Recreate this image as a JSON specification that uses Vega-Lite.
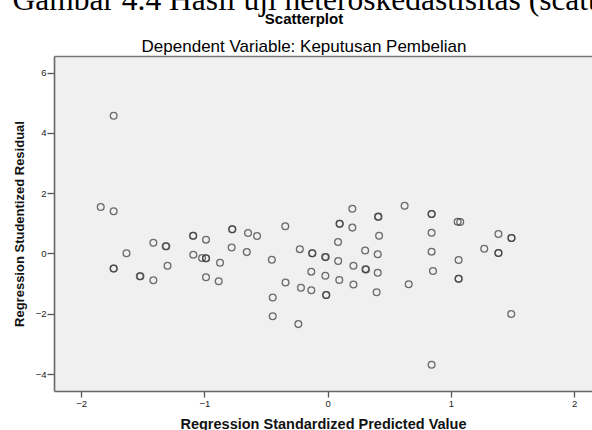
{
  "$schema": "https://vega.github.io/schema/vega-lite/v6.json",
  "autosize": {"type": "none"},
  "width": 538,
  "height": 335,
  "padding": {"left": 54, "top": 56, "right": 0, "bottom": 39},
  "background": "white",
  "config": {
    "view": {"fill": "#f0f0f0", "stroke": null},
    "font": "Liberation Sans"
  },
  "title": {
    "text": "Scatterplot",
    "subtitle": "Dependent Variable: Keputusan Pembelian",
    "font": "Liberation Sans",
    "fontSize": 15,
    "fontWeight": "bold",
    "color": "black",
    "subtitleFont": "Liberation Sans",
    "subtitleFontSize": 17,
    "subtitleColor": "black",
    "subtitlePadding": 12,
    "anchor": "middle",
    "frame": "group",
    "dx": -19,
    "offset": -71
  },
  "resolve": {"axis": {"x": "independent"}},
  "data": {
    "values": [
      {"x": -1.736, "y": 4.569},
      {"x": -1.841, "y": 1.542},
      {"x": -1.736, "y": 1.399},
      {"x": -1.632, "y": 0.007},
      {"x": -1.736, "y": -0.497},
      {"x": -1.736, "y": -0.497},
      {"x": -1.524, "y": -0.756},
      {"x": -1.519, "y": -0.756},
      {"x": -1.414, "y": 0.358},
      {"x": -1.314, "y": 0.239},
      {"x": -1.309, "y": 0.239},
      {"x": -1.414, "y": -0.889},
      {"x": -1.299, "y": -0.408},
      {"x": -1.091, "y": 0.587},
      {"x": -1.091, "y": 0.587},
      {"x": -0.987, "y": 0.458},
      {"x": -1.090, "y": -0.040},
      {"x": -1.019, "y": -0.149},
      {"x": -0.987, "y": -0.159},
      {"x": -0.987, "y": -0.159},
      {"x": -0.873, "y": -0.308},
      {"x": -0.987, "y": -0.789},
      {"x": -0.884, "y": -0.922},
      {"x": -0.774, "y": 0.802},
      {"x": -0.774, "y": 0.802},
      {"x": -0.646, "y": 0.680},
      {"x": -0.573, "y": 0.580},
      {"x": -0.779, "y": 0.199},
      {"x": -0.656, "y": 0.046},
      {"x": -0.453, "y": -0.206},
      {"x": -0.344, "y": 0.902},
      {"x": -0.446, "y": -1.459},
      {"x": -0.446, "y": -2.082},
      {"x": -0.342, "y": -0.962},
      {"x": -0.226, "y": 0.143},
      {"x": -0.217, "y": -1.134},
      {"x": -0.238, "y": -2.341},
      {"x": -0.133, "y": -0.603},
      {"x": -0.125, "y": 0.007},
      {"x": -0.125, "y": 0.007},
      {"x": -0.133, "y": -1.220},
      {"x": -0.021, "y": -0.116},
      {"x": -0.015, "y": -0.120},
      {"x": -0.019, "y": -0.739},
      {"x": -0.012, "y": -1.376},
      {"x": -0.012, "y": -1.376},
      {"x": 0.084, "y": 0.381},
      {"x": 0.097, "y": 0.988},
      {"x": 0.097, "y": 0.988},
      {"x": 0.085, "y": -0.249},
      {"x": 0.094, "y": -0.879},
      {"x": 0.200, "y": 1.482},
      {"x": 0.200, "y": 0.859},
      {"x": 0.209, "y": -0.408},
      {"x": 0.209, "y": -1.028},
      {"x": 0.304, "y": 0.099},
      {"x": 0.306, "y": -0.520},
      {"x": 0.311, "y": -0.528},
      {"x": 0.408, "y": 1.218},
      {"x": 0.412, "y": 1.222},
      {"x": 0.417, "y": 0.590},
      {"x": 0.406, "y": -0.023},
      {"x": 0.406, "y": -0.640},
      {"x": 0.397, "y": -1.286},
      {"x": 0.624, "y": 1.582},
      {"x": 0.657, "y": -1.021},
      {"x": 0.843, "y": 1.310},
      {"x": 0.843, "y": 1.310},
      {"x": 0.843, "y": 0.686},
      {"x": 0.843, "y": 0.060},
      {"x": 0.854, "y": -0.580},
      {"x": 0.843, "y": -3.687},
      {"x": 1.054, "y": 1.054},
      {"x": 1.075, "y": 1.044},
      {"x": 1.062, "y": -0.216},
      {"x": 1.062, "y": -0.839},
      {"x": 1.062, "y": -0.839},
      {"x": 1.270, "y": 0.159},
      {"x": 1.385, "y": 0.647},
      {"x": 1.491, "y": 0.514},
      {"x": 1.491, "y": 0.514},
      {"x": 1.385, "y": 0.017},
      {"x": 1.385, "y": 0.017},
      {"x": 1.489, "y": -2.006}
    ]
  },
  "layer": [
    {
      "mark": {"type": "point", "shape": "circle", "filled": false, "size": 46, "stroke": "#3a3a3a", "strokeWidth": 1.3, "opacity": 0.72},
      "encoding": {
        "x": {
          "field": "x", "type": "quantitative",
          "scale": {"domain": [-2.22, 2.144], "nice": false, "zero": false},
          "axis": {
            "orient": "bottom",
            "values": [-2, -1, 0, 1, 2],
            "title": "Regression Standardized Predicted Value",
            "titleFont": "Liberation Sans", "titleFontSize": 14.5, "titleFontWeight": "bold", "titleColor": "#111",
            "titlePadding": 10, "titleDx": 5,
            "labelFont": "Liberation Sans", "labelFontSize": 9.5, "labelColor": "#222", "labelPadding": 1,
            "tickSize": 6, "tickColor": "#555", "tickWidth": 1.3,
            "domainColor": "#666", "domainWidth": 1.6, "grid": false
          }
        },
        "y": {
          "field": "y", "type": "quantitative",
          "scale": {"domain": [-4.559, 6.548], "nice": false, "zero": false},
          "axis": {
            "values": [-4, -2, 0, 2, 4, 6],
            "title": "Regression Studentized Residual",
            "titleFont": "Liberation Sans", "titleFontSize": 13, "titleFontWeight": "bold", "titleColor": "#111",
            "titlePadding": 9,
            "labelFont": "Liberation Sans", "labelFontSize": 9.5, "labelColor": "#222", "labelPadding": 1,
            "tickSize": 7, "tickColor": "#555", "tickWidth": 1.3,
            "domainColor": "#666", "domainWidth": 1.6, "grid": false
          }
        }
      }
    },
    {
      "mark": {"type": "rule", "opacity": 0},
      "encoding": {
        "x2": {"datum": 0},
        "x": {
          "datum": 0, "type": "quantitative",
          "axis": {
            "orient": "top", "labels": false, "ticks": false, "grid": false,
            "domainColor": "#777", "domainWidth": 1.6,
            "title": "Gambar 4.4 Hasil uji heteroskedastisitas (scatterplot)",
            "titleFont": "Liberation Serif", "titleFontSize": 31.5, "titleFontWeight": "normal", "titleColor": "black",
            "titleAnchor": "start", "titleAlign": "left", "titleBaseline": "alphabetic",
            "titleX": -42, "titleY": -47
          }
        }
      }
    }
  ]
}
